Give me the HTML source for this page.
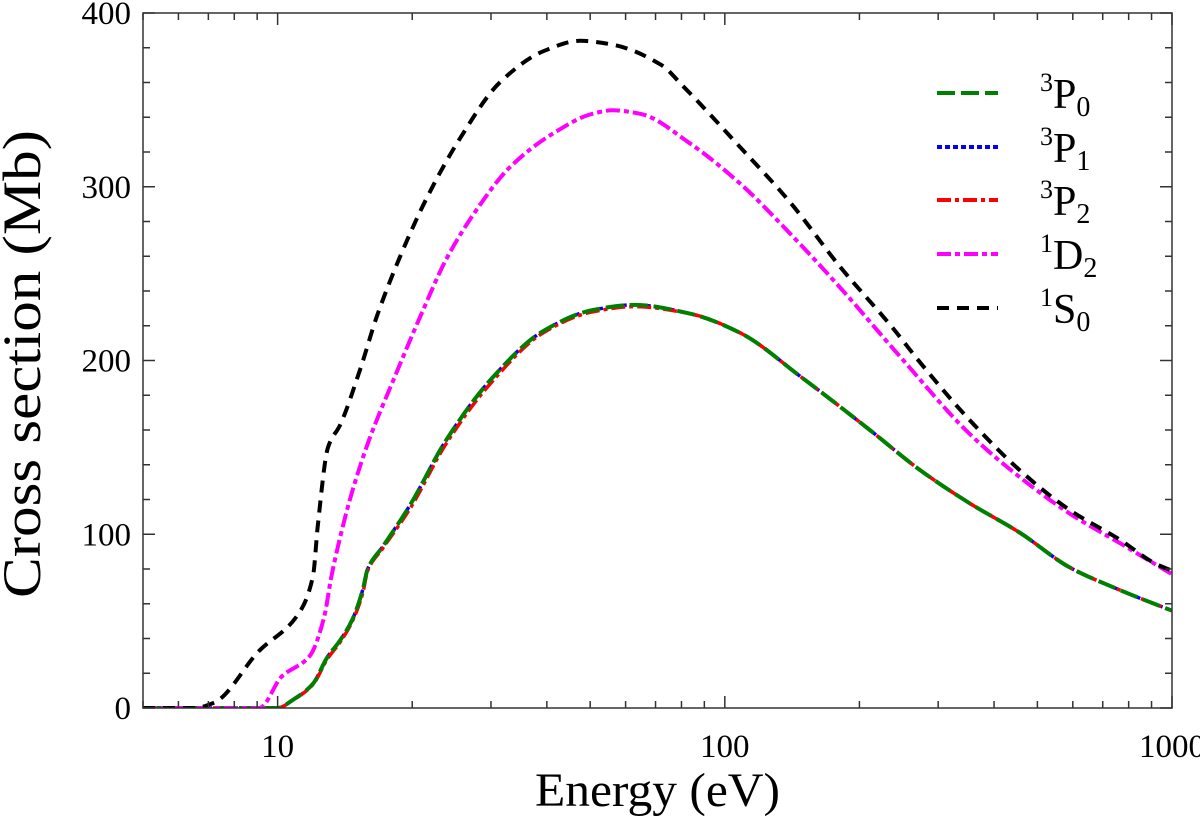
<!DOCTYPE html>
<html><head><meta charset="utf-8"><style>
body{margin:0;background:#fff}
svg{display:block;font-family:"Liberation Serif",serif}
</style></head><body>
<svg id="chart" width="1200" height="828">
<g id="plot"></g>
</svg>
<script>
const energyS0=[5,6.5,7.2,9.1,11.05,12.0,12.3,12.96,13.8,15.3,16.7,18.8,21.6,25.6,31.4,39.3,47.5,55.6,72.2,80.6,108,140,181,237,273,352,456,590,763,919,1000];
const valS0=[0,0,3,33,53,76,105,150,163,195,226,260,294,328,360,378,384,382,370,358,323,291,254,219,199,166,137,114,97,83,79];
const energyD2=[5,9.1,10.2,11.8,12.7,13.2,14.0,14.7,16.0,18.1,20.9,23.8,27.9,33.0,41.5,50.6,56.1,64.7,83.5,108,140,181,247,352,456,590,763,1000];
const valD2=[0,0,18,30,52,76,105,125,154,188,226,258,287,311,331,342,344,342,325,302,273,242,202,158,133,112,95,77];
const energyP=[5,10,10.8,12.0,12.9,13.8,14.7,15.5,15.9,17.2,19.8,23.8,30.2,39.3,50.6,62.6,83.5,108,149,211,273,352,456,590,763,1000];
const valP0=[0,0,4.6,14,29,39,51,68,80,93,117,154,190,217,229,232,227,216,190,160,137,118,101,81,68,56];
const valP1=[0,0,4.5,14,29,39,51,68,80,93,117,154,190,217,229,232,227,216,190,160,137,118,101,81,68,56];
const valP2=[0,0,4.4,13.5,28,38,50,66,79,92,115,152,188,216,228,231,227,216,190,160,137,118,101,81,68,56];
const yTicks=[0,100,200,300,400];
const xTicks=[10,100,1000];

const L=143,R=1172,T=13,B=708;
const xmin=5,xmax=1000,ymin=0,ymax=400;
const xs=e=>L+(Math.log10(e)-Math.log10(xmin))/(Math.log10(xmax)-Math.log10(xmin))*(R-L);
const ys=v=>B-(v-ymin)/(ymax-ymin)*(B-T);
const NS="http://www.w3.org/2000/svg";
const svg=document.getElementById('chart');
const plot=document.getElementById('plot');
function mk(tag,attrs,parent){const el=document.createElementNS(NS,tag);for(const k in attrs)el.setAttribute(k,attrs[k]);(parent||svg).appendChild(el);return el;}

const defs=mk('defs',{});
const cp=mk('clipPath',{id:'clip'},defs);
mk('rect',{x:L,y:T-2,width:R-L,height:B-T+2},cp);
plot.setAttribute('clip-path','url(#clip)');

// monotone cubic (Fritsch-Carlson) in pixel space
function smoothPath(P){
  const n=P.length,dx=[],m=[],t=[];
  for(let i=0;i<n-1;i++){dx.push(P[i+1][0]-P[i][0]);m.push((P[i+1][1]-P[i][1])/dx[i]);}
  t[0]=m[0];t[n-1]=m[n-2];
  for(let i=1;i<n-1;i++){
    if(m[i-1]*m[i]<=0)t[i]=0;
    else{const w1=2*dx[i]+dx[i-1],w2=dx[i]+2*dx[i-1];t[i]=(w1+w2)/(w1/m[i-1]+w2/m[i]);}
  }
  let d='M'+P[0][0].toFixed(1)+','+P[0][1].toFixed(1);
  for(let i=0;i<n-1;i++){
    const h=dx[i]/3;
    d+=' C'+(P[i][0]+h).toFixed(1)+','+(P[i][1]+t[i]*h).toFixed(1)+' '+(P[i+1][0]-h).toFixed(1)+','+(P[i+1][1]-t[i+1]*h).toFixed(1)+' '+P[i+1][0].toFixed(1)+','+P[i+1][1].toFixed(1);
  }
  return d;
}
function series(E,V,color,dash,w,name){
  const P=E.map((e,i)=>[xs(e),ys(V[i])]);
  const p=mk('path',{d:smoothPath(P),fill:'none',stroke:color,'stroke-width':w,'stroke-dasharray':dash,'stroke-linejoin':'round'},plot);
  
  
}
series(energyP,valP1,'#0000ff','5 3',3.5,'series-3p1');
series(energyP,valP2,'#ff0000','14 4 4 4',3.5,'series-3p2');
series(energyP,valP0,'#008000','18 6',4,'series-3p0');
series(energyD2,valD2,'#ff00ff','14 4 5 4',4,'series-1d2');
series(energyS0,valS0,'#000000','12 8',4,'series-1s0');

const fr=mk('rect',{x:L,y:T,width:R-L,height:B-T,fill:'none',stroke:'#333','stroke-width':1.5});



for(let v=0;v<=400;v+=20){
  const y=ys(v),len=(v%100===0)?12:7;
  mk('line',{x1:L,x2:L+len,y1:y,y2:y,stroke:'#333','stroke-width':1.5});
  mk('line',{x1:R,x2:R-len,y1:y,y2:y,stroke:'#333','stroke-width':1.5});
}
yTicks.forEach(v=>{
  const t=mk('text',{x:131,y:ys(v)+11,'text-anchor':'end','font-size':33,fill:'#000'});
  t.textContent=v;
  
  
});
for(let dec=1;dec<=1000;dec*=10){
  for(let m=1;m<10;m++){
    const e=dec*m; if(e<xmin||e>xmax)continue;
    const x=xs(e),len=(m===1)?12:7;
    mk('line',{x1:x,x2:x,y1:B,y2:B-len,stroke:'#333','stroke-width':1.5});
    mk('line',{x1:x,x2:x,y1:T,y2:T+len,stroke:'#333','stroke-width':1.5});
  }
}
xTicks.forEach(v=>{
  const t=mk('text',{x:xs(v),y:757,'text-anchor':'middle','font-size':33,fill:'#000'});
  t.textContent=v;
  
  
});
const xt=mk('text',{x:535,y:806,'font-size':48,fill:'#000',textLength:245,lengthAdjust:'spacingAndGlyphs'});
xt.textContent='Energy (eV)';


const yt=mk('text',{x:0,y:0,'font-size':54,fill:'#000',textLength:468,lengthAdjust:'spacingAndGlyphs',transform:'translate(40,598) rotate(-90)'});
yt.textContent='Cross section (Mb)';



const leg=[['3','P','0','#008000','18 6'],['3','P','1','#0000ff','5 3'],['3','P','2','#ff0000','14 4 4 4'],['1','D','2','#ff00ff','14 4 5 4'],['1','S','0','#000000','12 8']];
const legY=[93,147,200,254,308];
leg.forEach((l,i)=>{
  const g=mk('g',{});
  
  
  mk('line',{x1:937,x2:998,y1:legY[i],y2:legY[i],stroke:l[3],'stroke-width':4,'stroke-dasharray':l[4]},g);
  const t=mk('text',{x:1040,y:legY[i]+15,'font-size':42,fill:'#000'},g);
  const a=mk('tspan',{'font-size':26,dy:-17},t);a.textContent=l[0];
  const b=mk('tspan',{dy:17},t);b.textContent=l[1];
  const c=mk('tspan',{'font-size':28,dy:8},t);c.textContent=l[2];
});
</script>
</body></html>
